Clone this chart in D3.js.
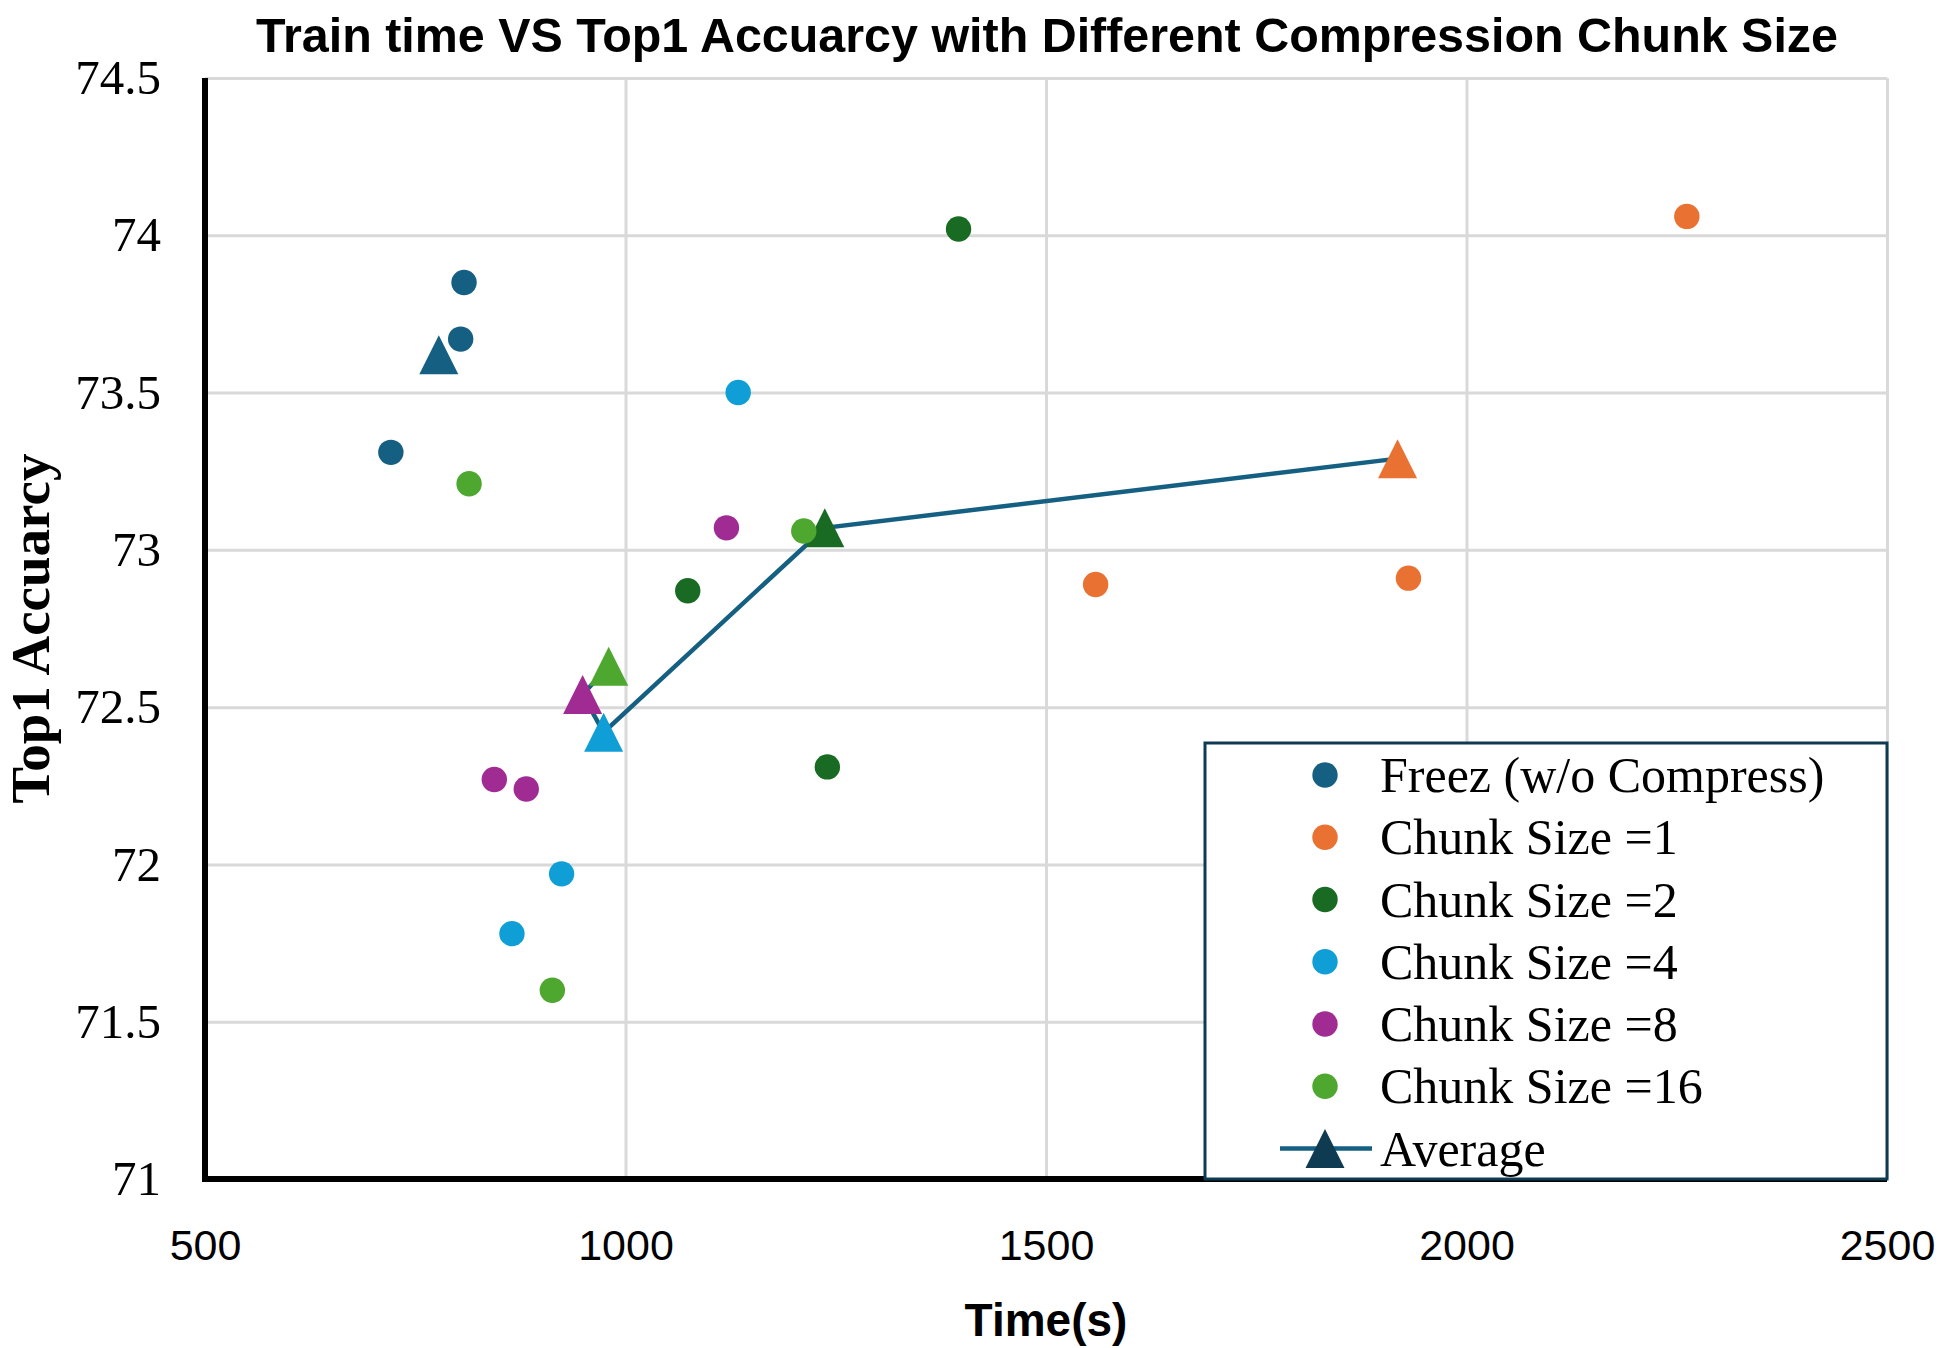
<!DOCTYPE html>
<html>
<head>
<meta charset="utf-8">
<script src="https://cdn.jsdelivr.net/npm/d3@7"></script>
<style>
	body { margin: 0; background: #fff; }
	svg { display: block; }
</style>
</head>
<body>
<div id="chart"></div>
<script>
/*global d3*/

// --- data ---
var seriesNames = ["Freez (w/o Compress)", "Chunk Size =1", "Chunk Size =2",
	"Chunk Size =4", "Chunk Size =8", "Chunk Size =16"];

var freezTime = [808, 804, 721];
var freezAcc = [73.85, 73.67, 73.31];
var chunk1Time = [2262, 1559, 1931];
var chunk1Acc = [74.06, 72.89, 72.91];
var chunk2Time = [1396, 1074, 1240];
var chunk2Acc = [74.02, 72.87, 72.31];
var chunk4Time = [1134, 924, 865];
var chunk4Acc = [73.50, 71.97, 71.78];
var chunk8Time = [1120, 844, 882];
var chunk8Acc = [73.07, 72.27, 72.24];
var chunk16Time = [814, 1212, 913];
var chunk16Acc = [73.21, 73.06, 71.60];

// averages, one per series (same order as seriesNames)
var avgTime = [778, 1918, 1237, 974, 949, 980];
var avgAcc = [73.62, 73.29, 73.07, 72.42, 72.54, 72.63];

var xTicks = [500, 1000, 1500, 2000, 2500];
var yTicks = [71, 71.5, 72, 72.5, 73, 73.5, 74, 74.5];

var colors = ["#156082", "#e97132", "#196b24", "#0f9ed5", "#a02b93", "#4ea72e"];

function drawChart() {
	var W = 1942, H = 1348;
	var pLeft = 205, pRight = 1887, pTop = 78, pBottom = 1179;

	var svg = d3.select('#chart').append('svg')
		.attr('width', W).attr('height', H)
		.style('background', '#fff');

	var x = d3.scaleLinear().domain([500, 2500]).range([pLeft, pRight]);
	var y = d3.scaleLinear().domain([71, 74.5]).range([pBottom, pTop]);

	// gridlines
	var gx = svg.append('g')
		.attr('transform', 'translate(0,' + pBottom + ')')
		.call(d3.axisBottom(x).tickValues(xTicks).tickSize(-(pBottom - pTop)).tickFormat(''));
	var gy = svg.append('g')
		.attr('transform', 'translate(' + pLeft + ',0)')
		.call(d3.axisLeft(y).tickValues(yTicks).tickSize(-(pRight - pLeft)).tickFormat(''));
	[gx, gy].forEach(function (g) {
		g.select('.domain').remove();
		g.selectAll('line').attr('stroke', '#d9d9d9').attr('stroke-width', 3);
	});

	// tick labels
	var lx = svg.append('g')
		.attr('transform', 'translate(0,' + pBottom + ')')
		.call(d3.axisBottom(x).tickValues(xTicks).tickSize(0).tickPadding(50).tickFormat(String));
	lx.select('.domain').remove();
	lx.selectAll('text')
		.attr('fill', '#000')
		.style('font-family', '"Liberation Sans", Arial, sans-serif')
		.style('font-size', '43px');

	var ly = svg.append('g')
		.attr('transform', 'translate(' + pLeft + ',0)')
		.call(d3.axisLeft(y).tickValues(yTicks).tickSize(0).tickPadding(44).tickFormat(String));
	ly.select('.domain').remove();
	ly.selectAll('text')
		.attr('fill', '#000')
		.style('font-family', '"Liberation Serif", "Times New Roman", serif')
		.style('font-size', '49px');

	// axis lines
	svg.append('line').attr('x1', pLeft).attr('x2', pLeft).attr('y1', pTop).attr('y2', pBottom + 3)
		.attr('stroke', '#000').attr('stroke-width', 6);
	svg.append('line').attr('x1', pLeft - 3).attr('x2', pRight).attr('y1', pBottom).attr('y2', pBottom)
		.attr('stroke', '#000').attr('stroke-width', 6);

	// average line through chunk sizes 1..16
	var avgPts = avgTime.map(function (t, i) { return { t: t, a: avgAcc[i], c: colors[i] }; });
	var line = d3.line().x(function (d) { return x(d.t); }).y(function (d) { return y(d.a); });
	svg.append('path')
		.datum(avgPts.slice(1))
		.attr('d', line)
		.attr('fill', 'none')
		.attr('stroke', '#156082')
		.attr('stroke-width', 4.5);

	function tri(cx, cy, s) {
		var h = s / 2;
		return 'M' + cx + ',' + (cy - h) + 'L' + (cx + h) + ',' + (cy + h) + 'L' + (cx - h) + ',' + (cy + h) + 'Z';
	}

	svg.append('g').selectAll('path')
		.data(avgPts)
		.enter().append('path')
		.attr('d', function (d) { return tri(x(d.t), y(d.a), 39); })
		.attr('fill', function (d) { return d.c; });

	// scatter series
	var times = [freezTime, chunk1Time, chunk2Time, chunk4Time, chunk8Time, chunk16Time];
	var accs = [freezAcc, chunk1Acc, chunk2Acc, chunk4Acc, chunk8Acc, chunk16Acc];

	times.forEach(function (ts, s) {
		svg.append('g').selectAll('circle')
			.data(ts.map(function (t, i) { return { t: t, a: accs[s][i] }; }))
			.enter().append('circle')
			.attr('cx', function (d) { return x(d.t); })
			.attr('cy', function (d) { return y(d.a); })
			.attr('r', 12.7)
			.attr('fill', colors[s]);
	});

	// legend
	var lg = svg.append('g');
	lg.append('rect')
		.attr('x', 1205).attr('y', 743).attr('width', pRight - 1205).attr('height', pBottom - 743)
		.attr('fill', '#fff').attr('stroke', '#0e3a52').attr('stroke-width', 3);

	var legendItems = seriesNames.concat(['Average']);
	var rows = lg.selectAll('g.item')
		.data(legendItems)
		.enter().append('g')
		.attr('class', 'item')
		.attr('transform', function (d, i) { return 'translate(0,' + (775 + i * 62.25) + ')'; });

	rows.each(function (d, i) {
		var g = d3.select(this);
		if (i < seriesNames.length) {
			g.append('circle').attr('cx', 1325).attr('cy', 0).attr('r', 12.7).attr('fill', colors[i]);
		} else {
			g.append('line').attr('x1', 1280).attr('x2', 1372).attr('y1', 0).attr('y2', 0)
				.attr('stroke', '#156082').attr('stroke-width', 4.5);
			g.append('path').attr('d', tri(1325, 0, 39)).attr('fill', '#0e3a52');
		}
		g.append('text')
			.attr('x', 1380).attr('y', 17)
			.style('font-family', '"Liberation Serif", "Times New Roman", serif')
			.style('font-size', '50px')
			.text(d);
	});

	// titles
	svg.append('text')
		.attr('x', 1047).attr('y', 52)
		.attr('text-anchor', 'middle')
		.attr('textLength', 1582).attr('lengthAdjust', 'spacingAndGlyphs')
		.style('font-family', '"Liberation Sans", Arial, sans-serif')
		.style('font-weight', 'bold')
		.style('font-size', '49px')
		.text('Train time VS Top1 Accuarcy with Different Compression Chunk Size');

	svg.append('text')
		.attr('x', (pLeft + pRight) / 2).attr('y', 1336)
		.attr('text-anchor', 'middle')
		.style('font-family', '"Liberation Sans", Arial, sans-serif')
		.style('font-weight', 'bold')
		.style('font-size', '46px')
		.text('Time(s)');

	svg.append('text')
		.attr('transform', 'translate(49,' + (pTop + pBottom) / 2 + ') rotate(-90)')
		.attr('text-anchor', 'middle')
		.style('font-family', '"Liberation Serif", "Times New Roman", serif')
		.style('font-weight', 'bold')
		.style('font-size', '55px')
		.text('Top1 Accuarcy');
}

drawChart();
</script>
</body>
</html>
